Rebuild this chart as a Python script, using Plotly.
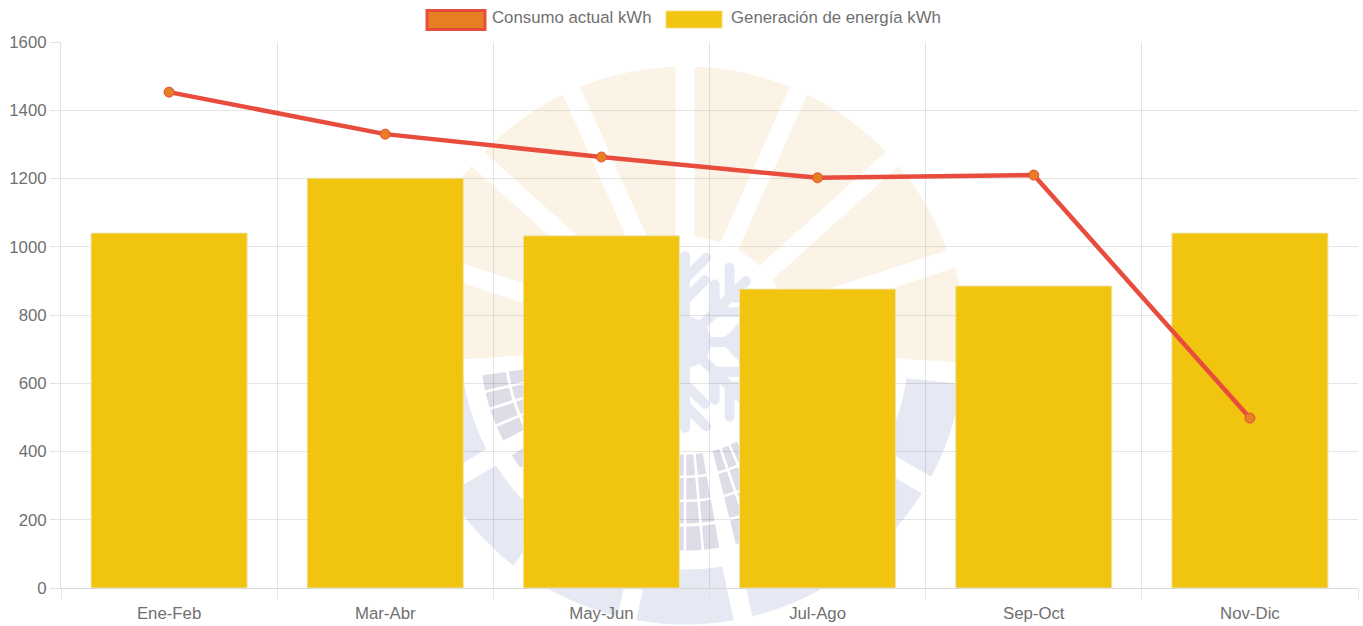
import math
import plotly.graph_objects as go

categories = ["Ene-Feb", "Mar-Abr", "May-Jun", "Jul-Ago", "Sep-Oct", "Nov-Dic"]
consumo = [1453, 1330, 1263, 1202, 1210, 498]
generacion = [1040, 1201, 1032, 876, 885, 1040]
y_ticks = [0, 200, 400, 600, 800, 1000, 1200, 1400, 1600]

W, H = 1363, 626
L, R, T, B = 61, 1358, 42, 588
CX, CY = 685, 345.5


def px(x):
    return (x - L) / (R - L)


def py(y):
    return (B - y) / (B - T)


def pt(angle, r):
    a = math.radians(angle)
    return CX + r * math.sin(a), CY - r * math.cos(a)


def closed(pts):
    return "M" + "L".join(f"{px(x):.5f},{py(y):.5f}" for x, y in pts) + "Z"


def ring_cell(a0, a1, r0, r1, gap0=0.0, gap1=0.0):
    """Closed path of an annular cell; gap = straight edge offset in px."""
    pts = []
    n = 14
    o0 = math.degrees(math.asin(gap0 / r1))
    o1 = math.degrees(math.asin(gap1 / r1))
    for i in range(n + 1):
        pts.append(pt(a0 + o0 + (a1 - o1 - a0 - o0) * i / n, r1))
    o0 = math.degrees(math.asin(gap0 / r0))
    o1 = math.degrees(math.asin(gap1 / r0))
    for i in range(n + 1):
        pts.append(pt(a1 - o1 - (a1 - o1 - a0 - o0) * i / n, r0))
    return closed(pts)


def capsule(x0, y0, x1, y1, w):
    """Rounded stroke as a filled outline."""
    base = math.atan2(y1 - y0, x1 - x0)
    pts = []
    for i in range(9):
        t = base + math.pi / 2 + math.pi * i / 8
        pts.append((x0 + w / 2 * math.cos(t), y0 + w / 2 * math.sin(t)))
    for i in range(9):
        t = base - math.pi / 2 + math.pi * i / 8
        pts.append((x1 + w / 2 * math.cos(t), y1 + w / 2 * math.sin(t)))
    return closed(pts)


G = 9.5
orange = ""
for a0, a1 in [(0, 24), (24, 48), (48, 72)]:
    orange += ring_cell(a0, a1, 109, 279, G, G)
    orange += ring_cell(-a1, -a0, 109, 279, G, G)
orange += ring_cell(72, 93.5, 109, 281, G, 0)
orange += ring_cell(-93.5, -72, 109, 281, 0, G)

blue = ""
blue_edges = [96, 120, 144, 168, 192, 216, 240, 264]
for a0, a1 in zip(blue_edges[:-1], blue_edges[1:]):
    blue += ring_cell(a0, a1, 224, 279, G, G)

panels = ""
rows = [(109, 130), (132.5, 154), (156.5, 178), (181, 205)]
for d in blue_edges[:-1]:
    for col in range(4):
        a0 = d + 2 + col * 5
        for r0, r1 in rows:
            panels += ring_cell(a0, a0 + 5, r0, r1, 1.3, 1.3)

# eight-armed snowflake at the centre of the logo
FX, FY = 685, 342
SW = 10
flake = closed([(FX + 26 * math.sin(math.radians(a)), FY - 26 * math.cos(math.radians(a)))
                for a in range(0, 360, 15)])
for arm in range(0, 360, 45):
    a = math.radians(arm)
    ex, ey = FX + 86 * math.sin(a), FY - 86 * math.cos(a)
    flake += capsule(FX, FY, ex, ey, SW)
    for rb, ln in ((42, 28), (63, 30)):
        bx, by = FX + rb * math.sin(a), FY - rb * math.cos(a)
        for side in (-45, 45):
            s = math.radians(arm + side)
            flake += capsule(bx, by, bx + ln * math.sin(s), by - ln * math.cos(s), SW)

shapes = [
    dict(type="path", path=orange, xref="paper", yref="paper", layer="below",
         fillcolor="#FBF3E6", line_width=0),
    dict(type="path", path=blue, xref="paper", yref="paper", layer="below",
         fillcolor="#E6E9F3", line_width=0),
    dict(type="path", path=panels, xref="paper", yref="paper", layer="below",
         fillcolor="#DEDDE7", line_width=0),
    dict(type="path", path=flake, xref="paper", yref="paper", layer="below", fillrule="nonzero",
         fillcolor="#E6E9F3", line_width=0),
    # legend swatches
    dict(type="rect", xref="paper", yref="paper", x0=px(427), x1=px(485), y0=py(29.5), y1=py(10.5),
         fillcolor="#E67E22", line=dict(color="#E74C3C", width=3)),
    dict(type="rect", xref="paper", yref="paper", x0=px(666), x1=px(722), y0=py(28), y1=py(11),
         fillcolor="#F1C40F", line=dict(color="#F5DC7A", width=1)),
]

axis_font = dict(family="Liberation Sans", size=16.8, color="#707070")
annotations = [
    dict(text="Consumo actual kWh", xref="paper", yref="paper", x=px(492), y=py(18),
         xanchor="left", yanchor="middle", showarrow=False, xshift=-2, font=axis_font),
    dict(text="Generación de energía kWh", xref="paper", yref="paper", x=px(731), y=py(18),
         xanchor="left", yanchor="middle", showarrow=False, xshift=-2, font=axis_font),
]

fig = go.Figure()
fig.add_bar(x=categories, y=generacion, name="Generación de energía kWh", width=0.722,
            marker=dict(color="#F1C40F", line=dict(color="#EFE3AE", width=1)))
fig.add_scatter(x=categories, y=consumo, name="Consumo actual kWh", mode="lines+markers",
                line=dict(color="#E74C3C", width=4.5), cliponaxis=False,
                marker=dict(color="#E67E22", size=10, line=dict(color="#E74C3C", width=1)))

fig.update_layout(
    width=W, height=H, showlegend=False, plot_bgcolor="rgba(0,0,0,0)", paper_bgcolor="white",
    margin=dict(l=L, r=W - R, t=T, b=H - B, pad=0, autoexpand=False),
    shapes=shapes, annotations=annotations,
    xaxis=dict(type="category", range=[-0.5, 5.5], tickson="boundaries", ticks="outside", ticklen=10,
               tickcolor="#E2E2E2", tickwidth=1, showgrid=True, gridcolor="rgba(0,0,0,0.1)", gridwidth=1,
               showline=True, linecolor="#D8D8D8", linewidth=1, tickfont=axis_font, zeroline=False,
               ticklabelstandoff=10, automargin=False),
    yaxis=dict(range=[0, 1600], tickvals=y_ticks, ticks="outside", ticklen=10, tickcolor="#E2E2E2",
               tickwidth=1, showgrid=True, gridcolor="rgba(0,0,0,0.1)", gridwidth=1,
               showline=True, linecolor="#E2E2E2", linewidth=1, tickfont=axis_font, zeroline=False,
               automargin=False),
)

fig.write_html("out.html", config=dict(displayModeBar=False),
               post_script="document.body.style.margin='0';document.body.style.overflow='hidden';")
